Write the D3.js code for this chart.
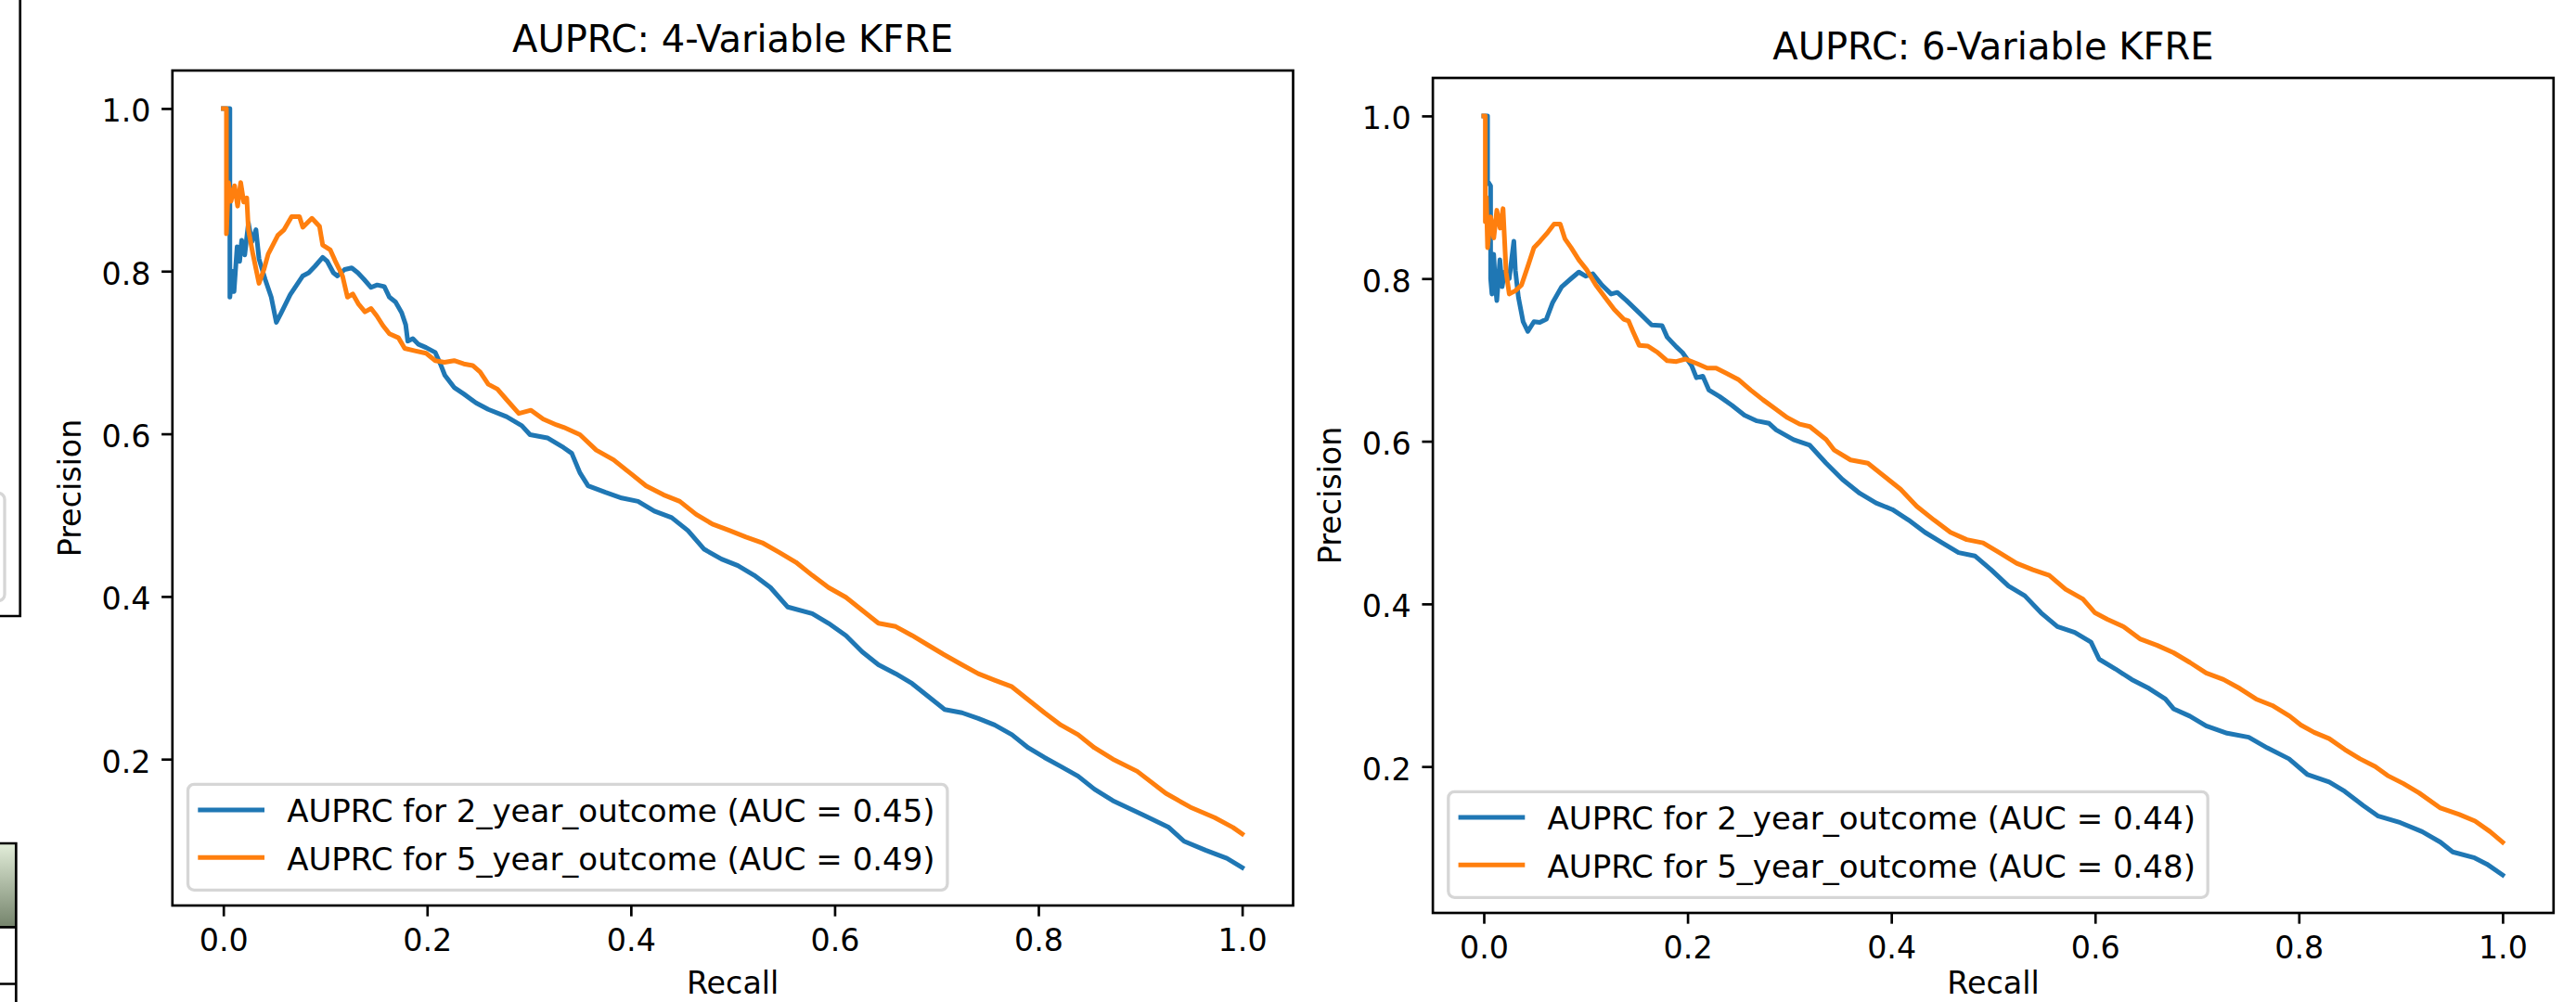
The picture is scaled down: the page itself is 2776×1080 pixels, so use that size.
<!DOCTYPE html>
<html><head><meta charset="utf-8">
<script src="https://cdn.jsdelivr.net/npm/d3@7"></script>
<style>html,body{margin:0;padding:0;background:#fff;} svg{display:block;font-family:"DejaVu Sans",sans-serif;}</style>
</head><body>
<svg id="c" width="2776" height="1080"></svg>
<script>
// ---------- data ----------
const panelTitles = ["AUPRC: 4-Variable KFRE", "AUPRC: 6-Variable KFRE"];
const seriesNames = ["2_year_outcome", "5_year_outcome"];
const aucValues = [[0.45, 0.49], [0.44, 0.48]];
const xTickValues = [0, 0.2, 0.4, 0.6, 0.8, 1.0];
const yTickValues = [0.2, 0.4, 0.6, 0.8, 1.0];
const xLabel = "Recall", yLabel = "Precision";

const kfre4_2y_recall = [0,0.0064,0.0064,0.0085,0.0105,0.0135,0.016,0.018,0.021,0.0246,0.028,0.032,0.035,0.041,0.047,0.052,0.0565,0.0656,0.0778,0.0838,0.0899,0.0975,0.102,0.108,0.112,0.119,0.126,0.132,0.138,0.145,0.151,0.158,0.163,0.169,0.175,0.179,0.181,0.186,0.1916,0.199,0.208,0.213,0.2174,0.2265,0.236,0.248,0.26,0.278,0.293,0.301,0.318,0.334,0.342,0.350,0.358,0.375,0.391,0.407,0.423,0.44,0.456,0.472,0.489,0.505,0.521,0.537,0.554,0.578,0.594,0.611,0.627,0.643,0.66,0.676,0.692,0.708,0.725,0.741,0.757,0.774,0.79,0.806,0.822,0.839,0.855,0.873,0.9035,0.928,0.943,0.964,0.985,1.0];
const kfre4_2y_precision = [1.0,1.0,0.768,0.80,0.775,0.83,0.812,0.838,0.82,0.859,0.836,0.851,0.815,0.79,0.768,0.737,0.748,0.771,0.794,0.798,0.806,0.817,0.812,0.798,0.794,0.802,0.804,0.798,0.79,0.78,0.783,0.781,0.768,0.762,0.749,0.734,0.714,0.717,0.71,0.706,0.70,0.686,0.672,0.657,0.649,0.638,0.63,0.621,0.61,0.599,0.595,0.583,0.576,0.552,0.536,0.528,0.521,0.517,0.505,0.497,0.481,0.458,0.446,0.438,0.426,0.411,0.387,0.379,0.367,0.352,0.332,0.316,0.305,0.293,0.277,0.261,0.257,0.25,0.242,0.23,0.214,0.202,0.191,0.179,0.163,0.149,0.131,0.116,0.099,0.088,0.078,0.0667];

const kfre4_5y_recall = [0,0.003,0.003,0.005,0.0075,0.011,0.014,0.017,0.020,0.023,0.0246,0.029,0.035,0.0398,0.044,0.0535,0.0596,0.067,0.0747,0.078,0.0869,0.0944,0.0975,0.105,0.1096,0.117,0.1218,0.127,0.1324,0.139,0.145,0.1506,0.1567,0.163,0.1719,0.178,0.188,0.199,0.208,0.217,0.2265,0.236,0.2447,0.252,0.26,0.269,0.278,0.29,0.302,0.314,0.327,0.334,0.35,0.366,0.383,0.399,0.415,0.432,0.448,0.464,0.48,0.497,0.513,0.529,0.546,0.562,0.578,0.594,0.611,0.627,0.643,0.66,0.676,0.692,0.708,0.725,0.741,0.757,0.774,0.79,0.806,0.822,0.839,0.855,0.873,0.897,0.925,0.949,0.973,0.991,1.0];
const kfre4_5y_precision = [1.0,1.0,0.846,0.909,0.886,0.905,0.88,0.909,0.885,0.89,0.851,0.821,0.785,0.802,0.821,0.844,0.851,0.867,0.867,0.854,0.865,0.855,0.832,0.826,0.813,0.794,0.768,0.772,0.76,0.75,0.754,0.745,0.733,0.723,0.718,0.705,0.702,0.699,0.69,0.688,0.69,0.686,0.684,0.676,0.661,0.655,0.642,0.625,0.629,0.618,0.611,0.608,0.599,0.58,0.568,0.552,0.536,0.525,0.517,0.501,0.489,0.481,0.473,0.466,0.454,0.442,0.426,0.411,0.399,0.383,0.367,0.363,0.352,0.34,0.328,0.316,0.305,0.297,0.289,0.273,0.257,0.242,0.23,0.214,0.20,0.185,0.158,0.141,0.128,0.116,0.108];

const kfre6_2y_recall = [0,0.0037,0.0037,0.0067,0.0067,0.008,0.0097,0.0115,0.0128,0.0158,0.018,0.0204,0.025,0.0295,0.031,0.034,0.0386,0.0432,0.0492,0.055,0.0614,0.0674,0.0765,0.0857,0.0933,0.10,0.107,0.116,0.125,0.131,0.140,0.1525,0.1647,0.175,0.18,0.189,0.195,0.204,0.2087,0.215,0.2209,0.2314,0.2437,0.2558,0.268,0.28,0.287,0.304,0.32,0.336,0.352,0.369,0.385,0.401,0.417,0.433,0.45,0.466,0.482,0.498,0.515,0.531,0.547,0.563,0.58,0.596,0.604,0.62,0.636,0.653,0.669,0.677,0.693,0.709,0.7296,0.7508,0.769,0.7903,0.8086,0.8298,0.845,0.8632,0.878,0.8997,0.921,0.939,0.951,0.9726,0.9846,1.0];
const kfre6_2y_precision = [1.0,1.0,0.92,0.914,0.80,0.781,0.83,0.79,0.773,0.823,0.79,0.808,0.80,0.846,0.81,0.777,0.747,0.735,0.747,0.746,0.75,0.77,0.79,0.80,0.808,0.803,0.806,0.792,0.781,0.783,0.773,0.758,0.743,0.742,0.728,0.716,0.709,0.693,0.678,0.68,0.663,0.655,0.644,0.632,0.625,0.622,0.614,0.602,0.595,0.573,0.553,0.536,0.524,0.516,0.503,0.488,0.475,0.463,0.459,0.442,0.422,0.41,0.389,0.372,0.365,0.353,0.332,0.32,0.307,0.296,0.283,0.271,0.262,0.25,0.241,0.236,0.223,0.2095,0.19,0.181,0.1695,0.152,0.139,0.131,0.12,0.107,0.095,0.0877,0.08,0.0667];

const kfre6_5y_recall = [0,0.0015,0.0015,0.0025,0.0037,0.0067,0.0098,0.0128,0.016,0.0189,0.0219,0.025,0.031,0.037,0.0432,0.0492,0.0553,0.0629,0.069,0.075,0.0796,0.0857,0.0933,0.1009,0.11,0.119,0.128,0.1373,0.142,0.1464,0.1525,0.161,0.1708,0.18,0.189,0.198,0.21,0.2193,0.228,0.2375,0.2497,0.2619,0.274,0.286,0.298,0.31,0.32,0.336,0.344,0.36,0.377,0.393,0.409,0.425,0.442,0.458,0.474,0.49,0.506,0.523,0.539,0.555,0.571,0.588,0.6,0.612,0.628,0.644,0.661,0.677,0.693,0.709,0.726,0.742,0.758,0.774,0.791,0.802,0.815,0.8298,0.845,0.86,0.875,0.887,0.9027,0.918,0.939,0.9575,0.973,0.9877,1.0];
const kfre6_5y_precision = [1.0,1.0,0.87,0.90,0.838,0.876,0.85,0.884,0.862,0.886,0.808,0.781,0.785,0.792,0.815,0.838,0.846,0.857,0.867,0.867,0.849,0.838,0.823,0.811,0.792,0.777,0.762,0.75,0.748,0.735,0.718,0.717,0.709,0.699,0.698,0.701,0.695,0.69,0.69,0.684,0.676,0.663,0.651,0.64,0.629,0.621,0.618,0.602,0.589,0.577,0.573,0.557,0.541,0.52,0.503,0.488,0.479,0.475,0.463,0.45,0.442,0.435,0.418,0.406,0.389,0.381,0.372,0.357,0.349,0.34,0.328,0.315,0.307,0.296,0.283,0.275,0.262,0.251,0.242,0.2343,0.221,0.2095,0.20,0.189,0.179,0.1676,0.149,0.141,0.133,0.12,0.107];

const panelSeries = [
  [[kfre4_2y_recall, kfre4_2y_precision], [kfre4_5y_recall, kfre4_5y_precision]],
  [[kfre6_2y_recall, kfre6_2y_precision], [kfre6_5y_recall, kfre6_5y_precision]]
];

// ---------- layout / style ----------
const colors = ["#1f77b4", "#ff7f0e"];
const FS = 33.33;            // 10pt @ 240dpi
const LEG_FS = 34;
const TITLE_FS = 40;         // 12pt
const LW = 5;                // 1.5pt
const SPINE = 2.67;          // 0.8pt
const TICK = 11.67;
const panelOffsets = [[0, 0], [1358.3, 8]];
const xLabelBaseline = [1071, 1063];
const frame = {left: 185.8, right: 1393.5, top: 76, bottom: 976};

const svg = d3.select("#c");
svg.append("rect").attr("width", 2776).attr("height", 1080).attr("fill", "#fff");

// fragments of neighbouring content at the left edge
const frag = svg.append("g");
frag.append("rect").attr("x", -600).attr("y", 531.5).attr("width", 605).attr("height", 116)
  .attr("rx", 6.7).attr("fill", "#fff").attr("stroke", "#d6d6d6").attr("stroke-width", 3.3);
frag.append("path").attr("d", "M21.7,-5 L21.7,664 L-5,664").attr("fill", "none")
  .attr("stroke", "#000").attr("stroke-width", SPINE);
const grad = svg.append("defs").append("linearGradient").attr("id", "gcell")
  .attr("x1", 0).attr("y1", 0).attr("x2", 0).attr("y2", 1);
grad.append("stop").attr("offset", "0%").attr("stop-color", "#e3eeda");
grad.append("stop").attr("offset", "100%").attr("stop-color", "#74836b");
frag.append("rect").attr("x", -10).attr("y", 909).attr("width", 27.3).attr("height", 90.4).attr("fill", "url(#gcell)");
frag.append("path").attr("d", "M-5,909 L17.3,909 L17.3,1090 M-5,999.4 L17.3,999.4 M-5,1060.5 L17.3,1060.5")
  .attr("fill", "none").attr("stroke", "#000").attr("stroke-width", 2.7);

panelTitles.forEach((title, pi) => {
  const [ox, oy] = panelOffsets[pi];
  const g = svg.append("g").attr("transform", `translate(${ox},${oy})`);
  const x = d3.scaleLinear().domain([-0.05, 1.05]).range([frame.left, frame.right]);
  const y = d3.scaleLinear().domain([0.02, 1.0467]).range([frame.bottom, frame.top]);

  // axes
  const xAxis = d3.axisBottom(x).tickValues(xTickValues).tickFormat(d3.format(".1f"))
    .tickSize(TICK).tickSizeOuter(0).tickPadding(TICK + 2);
  const gx = g.append("g").attr("transform", `translate(0,${frame.bottom})`).call(xAxis);
  gx.select(".domain").remove();
  gx.selectAll("line").attr("stroke", "#000").attr("stroke-width", SPINE);
  gx.selectAll("text").attr("font-size", FS).attr("fill", "#000").attr("font-family", "DejaVu Sans");

  const yAxis = d3.axisLeft(y).tickValues(yTickValues).tickFormat(d3.format(".1f"))
    .tickSize(TICK).tickSizeOuter(0).tickPadding(TICK);
  const gy = g.append("g").attr("transform", `translate(${frame.left},0)`).call(yAxis);
  gy.select(".domain").remove();
  gy.selectAll("line").attr("stroke", "#000").attr("stroke-width", SPINE);
  gy.selectAll("text").attr("font-size", FS).attr("fill", "#000").attr("dy", "0.42em").attr("font-family", "DejaVu Sans");

  // curves
  const line = d3.line().x(d => x(d[0])).y(d => y(d[1]));
  panelSeries[pi].forEach((s, si) => {
    const pts = d3.zip(s[0], s[1]);
    g.append("path").datum(pts).attr("d", line).attr("fill", "none")
      .attr("stroke", colors[si]).attr("stroke-width", LW)
      .attr("stroke-linejoin", "round").attr("stroke-linecap", "square");
  });

  // frame
  g.append("rect").attr("x", frame.left).attr("y", frame.top)
    .attr("width", frame.right - frame.left).attr("height", frame.bottom - frame.top)
    .attr("fill", "none").attr("stroke", "#000").attr("stroke-width", SPINE);

  // title & labels
  const cx = (frame.left + frame.right) / 2;
  g.append("text").attr("x", cx).attr("y", frame.top - 20).attr("text-anchor", "middle")
    .attr("font-size", TITLE_FS).attr("fill", "#000").text(title);
  g.append("text").attr("x", cx).attr("y", xLabelBaseline[pi]).attr("text-anchor", "middle")
    .attr("font-size", FS).attr("fill", "#000").text(xLabel);
  g.append("text").attr("transform", `translate(87,${(frame.top + frame.bottom) / 2}) rotate(-90)`)
    .attr("text-anchor", "middle").attr("font-size", FS).attr("fill", "#000").text(yLabel);

  // legend
  const lx = frame.left + 16.7, lyBottom = frame.bottom - 16.7, lh = 114;
  const ly = lyBottom - lh;
  const lg = g.append("g");
  const box = lg.append("rect").attr("x", lx).attr("y", ly).attr("height", lh).attr("rx", 6.7)
    .attr("fill", "#fff").attr("fill-opacity", 0.8).attr("stroke", "#d6d6d6").attr("stroke-width", 3.3);
  let maxW = 0;
  seriesNames.forEach((nm, si) => {
    const rowY = ly + 27.7 + si * 51.3;
    lg.append("line").attr("x1", lx + 13.3).attr("x2", lx + 80).attr("y1", rowY).attr("y2", rowY)
      .attr("stroke", colors[si]).attr("stroke-width", LW).attr("stroke-linecap", "square");
    const t = lg.append("text").attr("x", lx + 106.7).attr("y", rowY + 13.3)
      .attr("font-size", LEG_FS).attr("fill", "#000")
      .text(`AUPRC for ${nm} (AUC = ${aucValues[pi][si].toFixed(2)})`);
    maxW = Math.max(maxW, t.node().getComputedTextLength());
  });
  box.attr("width", 106.7 + maxW + 13.3);
});
</script>
</body></html>
